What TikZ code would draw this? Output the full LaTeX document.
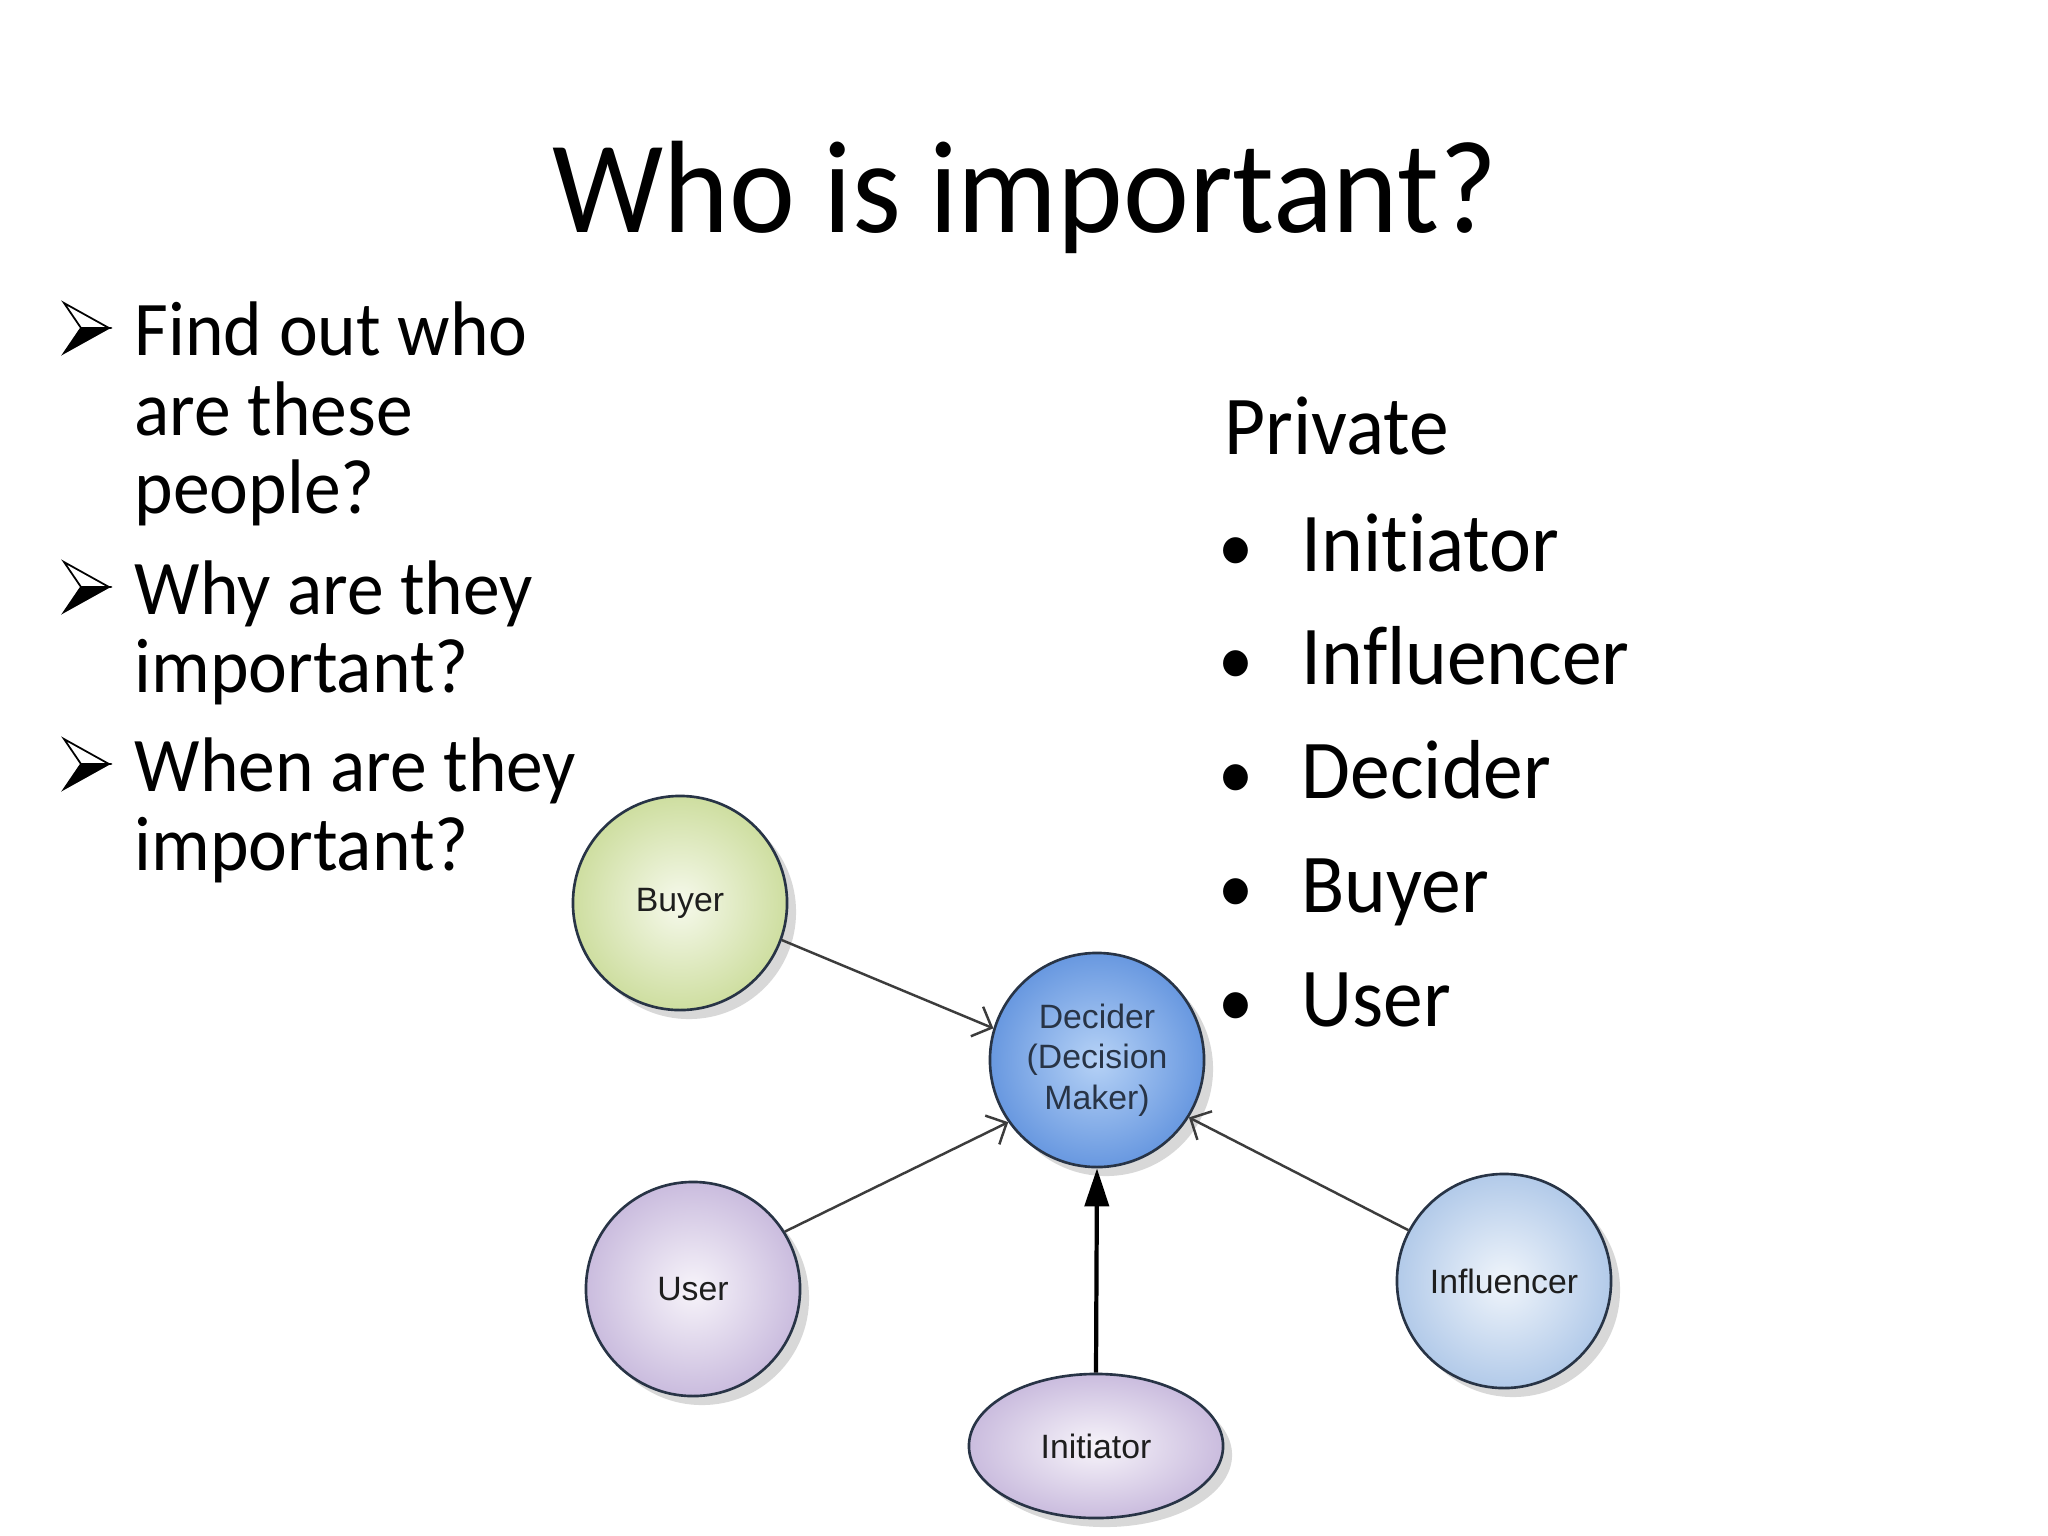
\documentclass[tikz,border=0pt]{standalone}
\usepackage{fontspec}
\setmainfont[FakeStretch=0.95,Ligatures=NoCommon]{Carlito}
\newfontfamily\diagfont{Liberation Sans}
\usetikzlibrary{arrows.meta,shadows,shapes.geometric}

\definecolor{buyerout}{RGB}{206,222,160}
\definecolor{buyerin}{RGB}{246,249,236}
\definecolor{deciderout}{RGB}{104,152,224}
\definecolor{deciderin}{RGB}{182,210,246}
\definecolor{userout}{RGB}{202,188,222}
\definecolor{userin}{RGB}{247,244,250}
\definecolor{inflout}{RGB}{178,202,233}
\definecolor{inflin}{RGB}{240,245,251}
\definecolor{rimgray}{RGB}{40,52,70}
\definecolor{linegray}{RGB}{60,60,60}
\definecolor{labelgray}{RGB}{30,30,30}

\begin{document}
\begin{tikzpicture}[x=0.01cm,y=-0.01cm,
role/.style={%
circle,
draw=rimgray,
line width=0.75pt,
minimum size=2.14cm,
inner sep=0pt,
align=center,
text=labelgray,
font=\diagfont\fontsize{9.6}{11.5}\selectfont,
drop shadow={shadow xshift=0.09cm,shadow yshift=-0.09cm,fill=black!30,opacity=0.5}
},
conn/.style={draw=linegray,line width=0.7pt,-{Straight Barb[length=1.6mm,width=3.2mm]}},
heading/.style={font=\fontsize{37.4}{44}\selectfont,inner sep=0pt},
ask/.style={font=\fontsize{22}{27}\selectfont,inner sep=0pt,anchor=base west},
item/.style={font=\fontsize{23.8}{29}\selectfont,inner sep=0pt,anchor=base west},
dot/.style={font=\fontsize{21}{29}\selectfont,inner sep=0pt,anchor=base},
askarrow/.pic={
\draw[line width=0.5pt,fill=white](0,-51)--(45,-26)--(17,-26)--cycle;
\filldraw[line width=0.5pt](17,-26)--(45,-26)--(0,-1)--cycle;
}
]
\fill[white](0,0)rectangle(2048,1536);
\useasboundingbox(0,0)rectangle(2048,1536);
%% Title
\node[heading,anchor=base]at(1025,232)(title){Who is important?};
%% Questions
\pic at(64,354){askarrow};
\node[ask]at(134,355)(q1a){Find out who};
\node[ask]at(134,435)(q1b){are these};
\node[ask]at(134,513)(q1c){people?};
\pic at(64,613){askarrow};
\node[ask]at(134,614)(q2a){Why are they};
\node[ask]at(134,692)(q2b){important?};
\pic at(64,790){askarrow};
\node[ask]at(134,791)(q3a){When are they};
\node[ask]at(134,870)(q3b){important?};
%% Roles list
\node[item]at(1224,454)(priv){Private};
\node[dot]at(1236,571)(d1){•};
\node[item]at(1301,571)(r1){Initiator};
\node[dot]at(1236,684)(d2){•};
\node[item]at(1301,684)(r2){Influencer};
\node[dot]at(1236,798)(d3){•};
\node[item]at(1301,798)(r3){Decider};
\node[dot]at(1236,912)(d4){•};
\node[item]at(1301,912)(r4){Buyer};
\node[dot]at(1236,1026)(d5){•};
\node[item]at(1301,1026)(r5){User};
%% Buying centre
\node[role,inner color=buyerin,outer color=buyerout]at(680,903)(buyer){Buyer};
\node[role,inner color=deciderin,outer color=deciderout,text=rimgray]at(1097,1060)(decider){Decider\\(Decision\\Maker)};
\node[role,inner color=userin,outer color=userout]at(693,1289)(user){User};
\node[role,inner color=inflin,outer color=inflout]at(1504,1281)(infl){Influencer};
\node[role,ellipse,minimum size=0pt,minimum width=2.54cm,minimum height=1.44cm,inner color=userin,outer color=userout]at(1096,1446)(init){Initiator};
%% Links
\draw[conn](buyer.-20)--(decider.163);
\draw[conn](user.32)--(decider.215);
\draw[conn](infl.152)--(decider.-32);
\draw[line width=1.2pt,-{Triangle[length=3.8mm,width=2.4mm]}](init.north)--(decider.south);
\end{tikzpicture}
\end{document}
